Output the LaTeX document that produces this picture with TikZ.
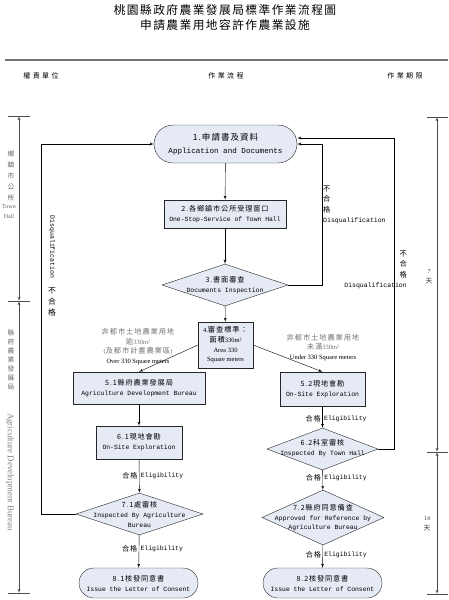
\documentclass[tikz,border=0pt]{standalone}
\usepackage{fontspec}
\setmainfont{Liberation Serif}
\newfontfamily\cjk[Scale=1.12,LetterSpace=12]{Noto Sans CJK TC}
\newfontfamily\cjkwide[LetterSpace=35]{Noto Sans CJK TC}
\newfontfamily\mono{Liberation Mono}
\usetikzlibrary{arrows}
\usetikzlibrary{shapes.geometric}
\definecolor{boxfill}{RGB}{229,234,245}
\tikzset{
 flow/.style={draw=black!85, fill=boxfill, align=center, inner sep=1pt,
   font=\fontsize{6.4}{10}\selectfont\mono},
 proc/.style={flow, rectangle},
 term/.style={flow, rectangle, rounded corners=15pt},
 decide/.style={diamond, draw=black!85, fill=boxfill, inner sep=0pt},
 dtext/.style={align=center, inner sep=0pt, font=\fontsize{6.4}{9.6}\selectfont\mono},
 cond/.style={align=center, inner sep=0pt, font=\fontsize{6.5}{9.7}\selectfont},
 ok/.style={inner sep=1.5pt, font=\fontsize{6.4}{8}\selectfont\mono},
 fail/.style={inner sep=0pt, font=\fontsize{6.5}{10.5}\selectfont\mono},
 side/.style={align=center, inner sep=0pt, text=black!60, font=\fontsize{6}{10}\selectfont},
 colhead/.style={inner sep=0pt, font=\fontsize{7}{9}\selectfont\cjkwide},
}
\begin{document}
\begin{tikzpicture}[x=1pt,y=-1pt,>=latex']
\useasboundingbox (0,0) rectangle (449,600);
% title and columns
\node[align=center, inner sep=0pt, font=\fontsize{10.5}{15}\selectfont\cjk] (title) at (225,17.5)
 {桃園縣政府農業發展局標準作業流程圖\\申請農業用地容許作農業設施};
\draw[black!55, line width=2pt] (5,60) -- (448,60);
\node[colhead] (unit) at (41,76) {權責單位};
\node[colhead] (work) at (226,76) {作業流程};
\node[colhead] (limit) at (405,76) {作業期限};

% left scale
\foreach \y in {116,301,593} \draw[black!70] (8,\y) -- (30,\y);
\draw[black!70, <->] (19,116) -- (19,301);
\draw[black!70, <->] (19,301) -- (19,593);
\node[side, font=\fontsize{6}{11}\selectfont\cjk] (town) at (11,176) {鄉\\鎮\\市\\公\\所};
\node[side] (townen) at (9,212) {Town\\Hall};
\node[side, font=\fontsize{6}{9}\selectfont\cjk] (bureau) at (11,360) {縣\\府\\農\\業\\發\\展\\局};
\node[side, rotate=-90, text=black!50, font=\fontsize{8.8}{10}\selectfont] (bureauen) at (10,472) {Agriculture Development Bureau};

% right scale
\foreach \y in {117,452,594} \draw[black!70] (427,\y) -- (448,\y);
\draw[black!70, <->] (437,117) -- (437,452);
\draw[black!70, <->] (437,452) -- (437,594);
\node[side, text=black!80] (days7) at (429,277) {7\\{\cjk 天}};
\node[side, text=black!80] (days14) at (427,524) {14\\{\cjk 天}};

% flow nodes
\node[term, rounded corners=19pt, minimum width=143pt, minimum height=38pt,
  font=\fontsize{7.6}{13}\selectfont\mono] (n1) at (225.5,144)
  {{\cjk 1.申請書及資料}\\Application and Documents};
\node[proc, minimum width=122pt, minimum height=28pt] (n2) at (225,214)
  {{\cjk 2.各鄉鎮市公所受理窗口}\\One-Stop-Service of Town Hall};
\node[decide, minimum width=126pt, minimum height=42pt] (d3) at (225,285) {};
\node[dtext] (t3) at (d3) {{\cjk 3.書面審查}\\Documents Inspection};
\node[proc, minimum width=55pt, minimum height=46pt, font=\fontsize{6.5}{9.7}\selectfont] (n4) at (225.5,345)
  {4.{\cjk 審查標準：}\\{\cjk 面積}330m²\\Area 330\\Square meters};
\node[proc, minimum width=132pt, minimum height=32pt] (n51) at (139,388)
  {{\cjk 5.1縣府農業發展局}\\Agriculture Development Bureau};
\node[proc, minimum width=85pt, minimum height=34pt] (n52) at (322.5,389)
  {{\cjk 5.2現地會勘}\\On-Site Exploration};
\node[proc, minimum width=86pt, minimum height=33pt] (n61) at (139,442.5)
  {{\cjk 6.1現地會勘}\\On-Site Exploration};
\node[decide, minimum width=111pt, minimum height=42pt] (d62) at (322.5,449) {};
\node[dtext] (t62) at (322.5,448) {{\cjk 6.2科室審核}\\Inspected By Town Hall};
\node[decide, minimum width=127pt, minimum height=42pt] (d71) at (139.5,514) {};
\node[dtext] (t71) at (139.5,514.5) {{\cjk 7.1處審核}\\Inspected By Agriculture\\Bureau};
\node[decide, minimum width=122pt, minimum height=55pt] (d72) at (323,517.5) {};
\node[dtext] (t72) at (323,518) {{\cjk 7.2縣府同意備查}\\Approved for Reference by\\Agriculture Bureau};
\node[term, minimum width=119pt, minimum height=30pt] (n81) at (138.5,583)
  {{\cjk 8.1核發同意書}\\Issue the Letter of Consent};
\node[term, minimum width=119pt, minimum height=30pt] (n82) at (322.5,583)
  {{\cjk 8.2核發同意書}\\Issue the Letter of Consent};

% conditions at box 4
\node[cond] (over) at (138,346.5)
  {\textcolor{black!55}{\cjk 非都市土地農業用地}\\\textcolor{black!55}{{\cjk 逾}330m²}\\
   \textcolor{black!55}{(\cjk 及都市計畫農業區\normalfont)}\\Over 330 Square meters};
\node[cond] (under) at (323,347.5)
  {\textcolor{black!55}{\cjk 非都市土地農業用地}\\\textcolor{black!55}{{\cjk 未滿}330m²}\\Under 330 Square meters};

% connectors
\draw[->] (n1) -- (n2);
\draw[->] (n2) -- (d3);
\draw[->] (d3) -- (n4);
\draw[->] (n4.west) -- (n51.north);
\draw[->] (n4.east) -- (n52.north);
\draw[->] (n51) -- (n61);
\draw[->] (n61) -- (d71) node[ok, midway, anchor=east] {\cjk 合格} node[ok, midway, anchor=west] {Eligibility};
\draw[->] (d71) -- (n81) node[ok, midway, anchor=east, yshift=3pt] {\cjk 合格} node[ok, midway, anchor=west, yshift=3pt] {Eligibility};
\draw[->] (n52) -- (d62) node[ok, midway, anchor=east, yshift=-2pt] {\cjk 合格} node[ok, midway, anchor=west, yshift=-2pt] {Eligibility};
\draw[->] (d62) -- (d72) node[ok, midway, anchor=east, yshift=2pt] {\cjk 合格} node[ok, midway, anchor=west, yshift=2pt] {Eligibility};
\draw[->] (d72) -- (n82) node[ok, midway, anchor=east, yshift=2pt] {\cjk 合格} node[ok, midway, anchor=west, yshift=2pt] {Eligibility};

% disqualification loops
\draw[->] (d71.west) -- ++(-35,0) |- (n1.west);
\draw[->] (d3.east) -- ++(34,0) |- (n1.east);
\draw[->] (d62.east) -- ++(16,0) |- ([yshift=6pt]n1.east);
\node[fail, rotate=-90] (fail1) at (52,247) {Disqualification};
\node[fail, align=center, font=\fontsize{7}{11}\selectfont\cjk] (fail1zh) at (52,302) {不\\合\\格};
\node[fail, align=left, anchor=west] (fail2) at (323,205) {{\cjk 不}\\{\cjk 合}\\{\cjk 格}\\Disqualification};
\node[fail, align=right, anchor=east] (fail3) at (407,270) {{\cjk 不}\\{\cjk 合}\\{\cjk 格}\\Disqualification};
\end{tikzpicture}
\end{document}
